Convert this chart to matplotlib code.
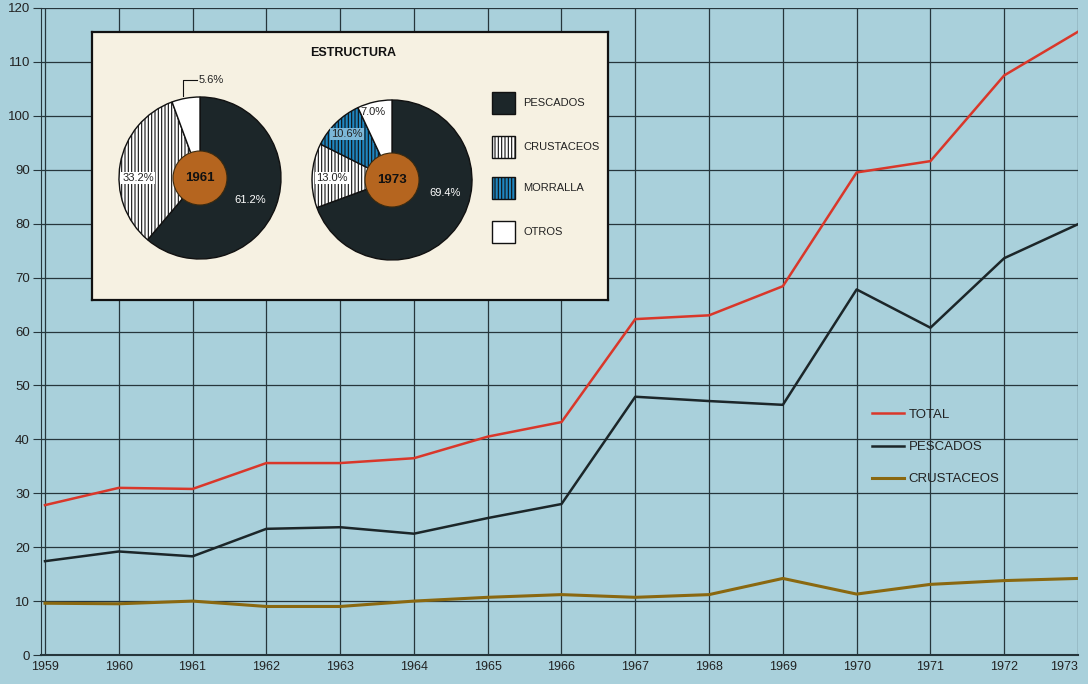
import matplotlib
matplotlib.use("Agg")
import matplotlib.pyplot as plt
from matplotlib.patches import Rectangle, Circle

plt.rcParams['font.family'] = ['Liberation Sans', 'DejaVu Sans']
plt.rcParams['hatch.linewidth'] = 0.8

# datos (miles de toneladas)
years = list(range(1959, 1974))
total = [27.8, 31.0, 30.8, 35.6, 35.6, 36.5, 40.5, 43.2, 62.3, 63.0, 68.4, 89.5, 91.6, 107.5, 115.6]
pescados = [17.4, 19.2, 18.3, 23.4, 23.7, 22.5, 25.4, 28.0, 47.9, 47.1, 46.4, 67.8, 60.7, 73.6, 79.9]
crustaceos = [9.6, 9.5, 10.0, 9.0, 9.0, 10.0, 10.7, 11.2, 10.7, 11.2, 14.2, 11.3, 13.1, 13.8, 14.2]

yticks = list(range(0, 121, 10))

# estructura (%)
pie_labels = ["PESCADOS", "CRUSTACEOS", "MORRALLA", "OTROS"]
share_1961 = [61.2, 33.2, 0.0, 5.6]
share_1973 = [69.4, 13.0, 10.6, 7.0]

BG = "#a9d0db"
GRID = "#26363c"
C_TOTAL = "#d9372a"
C_PESC = "#1c2629"
C_CRUS = "#8a6810"
BLUE = "#1f86c0"
BROWN = "#b5651f"
CREAM = "#f6f1e2"

fig = plt.figure(figsize=(10.88, 6.84), dpi=100)
fig.patch.set_facecolor(BG)

W, H = 1088.0, 684.0
ax = fig.add_axes([41 / W, 1 - 655 / H, (1078 - 41) / W, (655 - 8) / H])
ax.set_facecolor(BG)

ax.plot(years, total, color=C_TOTAL, lw=1.8, label="TOTAL", zorder=3)
ax.plot(years, pescados, color=C_PESC, lw=1.8, label="PESCADOS", zorder=3)
ax.plot(years, crustaceos, color=C_CRUS, lw=2.2, label="CRUSTACEOS", zorder=3)

ax.set_xlim(1958.946, 1973.0)
ax.set_ylim(0, 120)
ax.set_xticks(years)
ax.set_yticks(yticks)
ax.grid(True, color=GRID, lw=0.9, zorder=1)
for s in ["top", "right"]:
    ax.spines[s].set_visible(False)
ax.spines["left"].set_color(GRID)
ax.spines["bottom"].set_color(GRID)
ax.spines["bottom"].set_linewidth(1.5)
ax.tick_params(axis="y", length=6, color=GRID, labelsize=9.5, pad=2, labelcolor="#222222")
ax.tick_params(axis="x", length=0, labelsize=9, pad=4, labelcolor="#222222")
ax.get_xticklabels()[-1].set_horizontalalignment("right")

leg = ax.legend(loc="upper left", bbox_to_anchor=(860 / W, 1 - 397 / H), bbox_transform=fig.transFigure,
                frameon=False, fontsize=9.5, handlelength=2.4, handletextpad=0.4, labelspacing=1.5)
for t in leg.get_texts():
    t.set_color("#222222")

# recuadro con la estructura
box_l, box_r, box_t, box_b = 92, 608, 32, 300
iax = fig.add_axes([box_l / W, 1 - box_b / H, (box_r - box_l) / W, (box_b - box_t) / H])
iax.set_facecolor(CREAM)
for s in iax.spines.values():
    s.set_linewidth(1.6)
    s.set_color("#111111")
iax.set_xticks([])
iax.set_yticks([])

colors = [C_PESC, "white", BLUE, "white"]
hatches = [None, "|||||", "|||||", None]


def draw_pie(shares, cx, cy, r, year):
    vals, cols, hts = [], [], []
    for v, c, h in zip(shares, colors, hatches):
        if v > 0:
            vals.append(v)
            cols.append(c)
            hts.append(h)
    wedges, _ = iax.pie(vals, colors=cols, startangle=90, counterclock=False, center=(cx, cy),
                        radius=r, frame=True, wedgeprops=dict(edgecolor="#111111", linewidth=1.0))
    for w, h in zip(wedges, hts):
        if h:
            w.set_hatch(h)
    iax.add_patch(Circle((cx, cy), 27, facecolor=BROWN, edgecolor="#3a2a10", lw=0.8, zorder=5))
    iax.text(cx, cy, str(year), ha="center", va="center", fontsize=9.5, fontweight="bold",
             color="#111111", zorder=6)


draw_pie(share_1961, 200, H - 178, 81, 1961)
draw_pie(share_1973, 392, H - 180, 80, 1973)

iax.set_xlim(box_l, box_r)
iax.set_ylim(H - box_b, H - box_t)
iax.set_aspect("auto")

iax.text(353, H - 53, "ESTRUCTURA", ha="center", va="center", fontsize=9, fontweight="bold", color="#111111")

lbl = dict(ha="center", va="center", fontsize=8, zorder=7)
wbox = dict(boxstyle="square,pad=0.1", facecolor="white", edgecolor="none")
iax.text(250, H - 200, "61.2%", color="white", **lbl)
iax.text(138, H - 178, "33.2%", color="#222222", bbox=wbox, **lbl)
iax.text(211, H - 80, "5.6%", color="#222222", **lbl)
iax.plot([183, 183, 197], [H - 96, H - 80, H - 80], color="#111111", lw=0.8)
iax.text(445, H - 193, "69.4%", color="white", **lbl)
iax.text(332, H - 178, "13.0%", color="#222222", bbox=wbox, **lbl)
iax.text(347, H - 134, "10.6%", color="#222222",
         bbox=dict(boxstyle="square,pad=0.1", facecolor="#7cb7d8", edgecolor="none"), **lbl)
iax.text(373, H - 112, "7.0%", color="#222222", **lbl)

# leyenda de la estructura
rows = [103, 147, 188, 232]
for y, name, c, h in zip(rows, pie_labels, colors, hatches):
    iax.add_patch(Rectangle((492, H - y - 11), 23, 22, facecolor=c, edgecolor="#111111", lw=1.0,
                            hatch=h))
    iax.text(523, H - y, name, ha="left", va="center", fontsize=8, color="#222222")

fig.savefig("out.png", dpi=100, facecolor=fig.get_facecolor())
